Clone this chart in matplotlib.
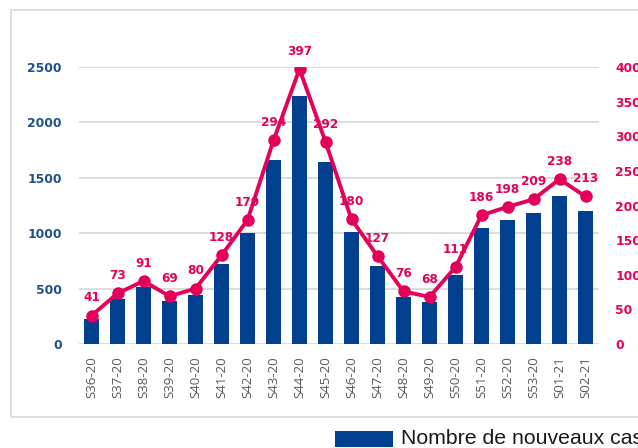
import matplotlib
matplotlib.use("Agg")
import matplotlib.pyplot as plt
from matplotlib.patches import Rectangle

weeks = ["S36-20", "S37-20", "S38-20", "S39-20", "S40-20", "S41-20", "S42-20",
         "S43-20", "S44-20", "S45-20", "S46-20", "S47-20", "S48-20", "S49-20",
         "S50-20", "S51-20", "S52-20", "S53-20", "S01-21", "S02-21"]
new_cases = [225, 410, 510, 390, 445, 720, 1005, 1660, 2240, 1645, 1015, 705,
             420, 375, 625, 1050, 1120, 1180, 1335, 1200]
line_values = [41, 73, 91, 69, 80, 128, 179, 294, 397, 292, 180, 127, 76, 68,
               111, 186, 198, 209, 238, 213]
left_ticks = [0, 500, 1000, 1500, 2000, 2500]
right_ticks = [0, 50, 100, 150, 200, 250, 300, 350, 400]
legend_label = "Nombre de nouveaux cas"

BLUE = "#00408F"
BLUE_TXT = "#1F4E8F"
PINK = "#E5005A"
GRAY = "#595959"
NUM_FONT = ['DejaVu Sans']

W, H = 638, 448
fig = plt.figure(figsize=(W / 100, H / 100), dpi=100)
plt.rcParams['font.family'] = ['Open Sans', 'DejaVu Sans']

# outer frame (partially outside the image on the right)
fig.patches.append(Rectangle((11 / W, 1 - 417 / H), 700 / W, (417 - 10) / H,
                             transform=fig.transFigure, fill=False,
                             edgecolor="#D9D9D9", linewidth=1.2))

x0, x1 = 78.5, 598.5
y0, y1 = 67, 344
ax = fig.add_axes([x0 / W, 1 - y1 / H, (x1 - x0) / W, (y1 - y0) / H])
xs = list(range(len(weeks)))
ax.bar(xs, new_cases, width=0.56, color=BLUE, zorder=2)
ax.set_xlim(-0.5, len(weeks) - 0.5)
ax.set_ylim(0, 2500)
ax.set_yticks(left_ticks)
ax.set_yticklabels([str(v) for v in left_ticks], color=BLUE_TXT,
                   fontweight="bold", fontsize=8.8, family=NUM_FONT)
ax.grid(axis="y", color="#D9D9D9", linewidth=1.3, zorder=0)
ax.set_axisbelow(True)
for s in ax.spines.values():
    s.set_visible(False)
ax.tick_params(axis="y", length=0, pad=12)
ax.tick_params(axis="x", length=0, pad=9)
ax.set_xticks(xs)
ax.set_xticklabels(weeks, rotation=90, color=GRAY, fontsize=9.5,
                   family=['Open Sans', 'DejaVu Sans'])

ax2 = ax.twinx()
ax2.plot(xs, line_values, color=PINK, linewidth=2.8, marker="o",
         markersize=8, zorder=3)
ax2.set_ylim(0, 400)
ax2.set_yticks(right_ticks)
ax2.set_yticklabels([str(v) for v in right_ticks], color=PINK,
                    fontweight="bold", fontsize=8.8, family=NUM_FONT)
ax2.tick_params(axis="y", length=0, pad=12)
for s in ax2.spines.values():
    s.set_visible(False)
for x, v in zip(xs, line_values):
    ax2.annotate(str(v), (x, v), xytext=(0, 8), textcoords="offset points",
                 ha="center", va="bottom", color=PINK, fontweight="bold",
                 fontsize=8.7, family=NUM_FONT)

# legend (partially cut at right edge)
fig.patches.append(Rectangle((335 / W, 1 - 447 / H), 58 / W, 16 / H,
                             transform=fig.transFigure, facecolor=BLUE,
                             edgecolor="none"))
fig.text(401 / W, 1 - 438 / H, legend_label, fontsize=15.3, color="#1A1A1A",
         va="center", ha="left", family=['Liberation Sans', 'DejaVu Sans'])

fig.savefig("out.png", dpi=100)
